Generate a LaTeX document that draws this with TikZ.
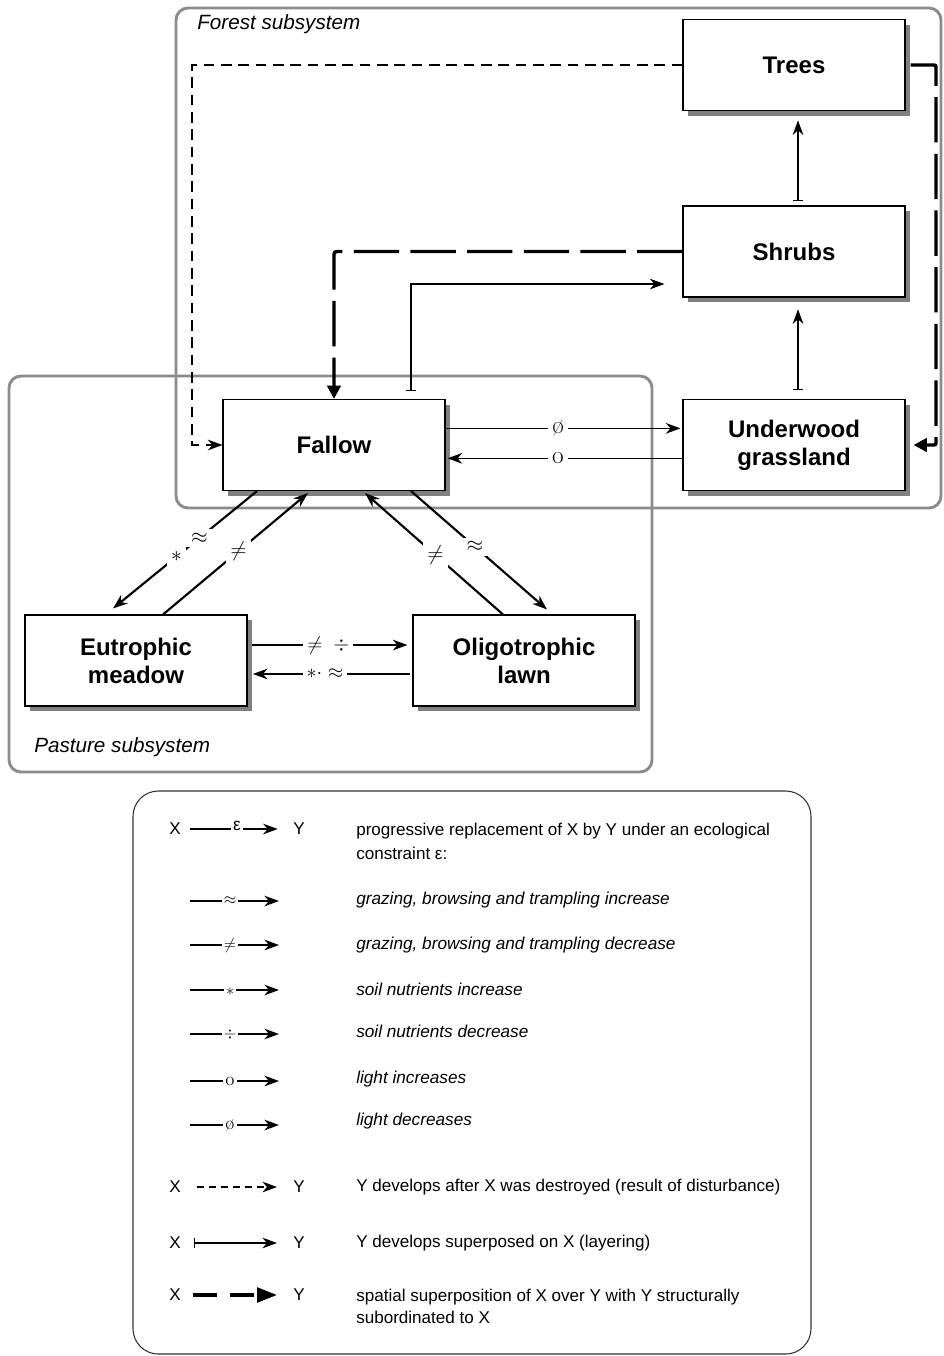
\RequirePackage{fix-cm}
\documentclass[tikz,border=0pt]{standalone}
\usepackage{fontspec}
\newfontfamily\arial{Liberation Sans}
\usetikzlibrary{arrows.meta,shadows}
\definecolor{shadowgray}{gray}{0.5}
\definecolor{framegray}{gray}{0.55}
\begin{document}
\begin{tikzpicture}[x=0.75pt,y=-0.75pt,
  box/.style={draw=black,line width=0.8pt,fill=white,minimum width=166.5pt,minimum height=68.25pt,inner sep=2pt,align=center,
    font=\arial\bfseries\fontsize{18}{21}\selectfont,
    drop shadow={shadow xshift=3.75pt,shadow yshift=-3.75pt,fill=shadowgray,opacity=1}},
  sub/.style={draw=framegray,line width=2.2pt,rounded corners=9pt},
  subtitle/.style={font=\arial\itshape\fontsize{15.5}{18}\selectfont,inner sep=0pt,anchor=west},
  tip/.style={-{Stealth[length=11pt,width=8pt,inset=3.5pt]}},
  repl/.style={tip,line width=1.1pt},
  diag/.style={tip,line width=1.6pt},
  dist/.style={tip,line width=0.9pt,dash pattern=on 8pt off 5pt},
  layer/.style={{Bar[width=7pt,line width=0.9pt]}-{Stealth[length=11pt,width=8pt,inset=3.5pt]},line width=0.9pt},
  super/.style={line width=2.6pt,dash pattern=on 34pt off 8.5pt,-{Triangle[length=10pt,width=10pt]}},
  lbl/.style={fill=white,inner sep=3pt,font=\fontsize{16}{16}\selectfont},
  lblo/.style={fill=white,inner sep=3pt,font=\fontsize{19}{19}\selectfont},
  ltxt/.style={font=\arial\fontsize{12.8}{18}\selectfont,inner sep=0pt},
  litxt/.style={font=\arial\itshape\fontsize{12.9}{18}\selectfont,inner sep=0pt,anchor=west},
  llbl/.style={fill=white,inner sep=1.5pt,font=\fontsize{12}{12}\selectfont},
]
\useasboundingbox (0,0) rectangle (944,1356);
% subsystems
\draw[sub] (176,8) rectangle (941,508);
\draw[sub] (9,376) rectangle (652,772);
\node[subtitle] (ft) at (197,24) {Forest subsystem};
\node[subtitle] (pt) at (34,747) {Pasture subsystem};
% boxes
\node[box] (tre) at (794,65) {Trees};
\node[box] (shr) at (794,251.5) {Shrubs};
\node[box] (und) at (794,445) {Underwood\\grassland};
\node[box] (fal) at (334,445) {Fallow};
\node[box] (eut) at (136,660.5) {Eutrophic\\meadow};
\node[box] (oli) at (524,660.5) {Oligotrophic\\lawn};
% disturbance
\coordinate (cd) at (192,445);
\draw[dist] (tre.west) -| (cd) -- (fal.west);
% superposition
\coordinate (cr) at (936,250);
\draw[super,rounded corners=1.5pt,shorten <=3.75pt,shorten >=6pt] (tre.east) -| (cr) |- (und.east);
\draw[super,rounded corners=2pt] (shr.west) -| (fal.north);
% layering
\draw[layer] ([xshift=57.75pt,yshift=6pt]fal.north) |- ([xshift=-13.5pt,yshift=-24.4pt]shr.west);
\draw[layer] ([xshift=3pt,yshift=3.2pt]shr.north) -- ([xshift=3pt,yshift=-7pt]tre.south);
\draw[layer] ([xshift=3pt,yshift=6.5pt]und.north) -- ([xshift=3pt,yshift=-8.8pt]shr.south);
% light
\draw[repl] ([yshift=12.5pt]fal.east) -- ([yshift=12.5pt,xshift=-1.5pt]und.west) node[lblo,pos=0.48]{\o};
\draw[repl] ([yshift=-10pt]und.west) -- ([yshift=-10pt,xshift=1.5pt]fal.east) node[lblo,pos=0.53,inner ysep=1pt]{o};
% diagonals
\draw[diag] ([xshift=-57.75pt]fal.south) -- ([xshift=-17.25pt,yshift=4.5pt]eut.north)
  node[lbl,pos=0.40]{$\approx$} node[lbl,pos=0.56]{$\ast$};
\draw[diag] ([xshift=20.25pt]eut.north) -- ([xshift=-19.5pt,yshift=-1.5pt]fal.south)
  node[lbl,pos=0.52]{$\neq$};
\draw[diag] ([xshift=-15.75pt]oli.north) -- ([xshift=23.25pt,yshift=-1.5pt]fal.south)
  node[lbl,pos=0.49]{$\neq$};
\draw[diag] ([xshift=57.75pt]fal.south) -- ([xshift=17.25pt,yshift=3.75pt]oli.north)
  node[lbl,pos=0.47]{$\approx$};
% pasture horizontal
\draw[repl,shorten <=3pt,shorten >=3.75pt] ([yshift=11.6pt]eut.east) -- ([yshift=11.6pt]oli.west)
  node[lbl,pos=0.49,font=\fontsize{15}{15}\selectfont]{$\neq\;\div$};
\draw[repl,shorten <=2pt,shorten >=4pt] ([yshift=-10.1pt]oli.west) -- ([yshift=-10.1pt]eut.east)
  node[lbl,pos=0.53,font=\fontsize{15}{15}\selectfont]{$\ast{\cdot}\approx$};
% legend
\draw[line width=0.8pt,draw=black!80,rounded corners=19pt] (133,791) rectangle (811,1354);
\node[ltxt] (x1) at (175,829) {X};
\node[ltxt] (y1) at (299,829) {Y};
\draw[repl,shorten <=7pt,shorten >=11.5pt] (x1) -- (y1)
  node[llbl,pos=0.5,yshift=2pt,font=\arial\fontsize{13}{13}\selectfont]{ε};
\node[ltxt,anchor=west,align=left] (t1) at (356,841) {progressive replacement of X by Y under an ecological\\constraint ε:};
% constraint rows
\coordinate (a2) at (190,901); \coordinate (b2) at (279,901);
\draw[repl] (a2) -- (b2) node[llbl,pos=0.45]{$\approx$};
\node[litxt] (t2) at (356,900) {grazing, browsing and trampling increase};
\coordinate (a3) at (190,945); \coordinate (b3) at (279,945);
\draw[repl] (a3) -- (b3) node[llbl,pos=0.45]{$\neq$};
\node[litxt] (t3) at (356,945) {grazing, browsing and trampling decrease};
\coordinate (a4) at (190,990); \coordinate (b4) at (279,990);
\draw[repl] (a4) -- (b4) node[llbl,pos=0.45,yshift=-1pt]{$\ast$};
\node[litxt] (t4) at (356,989) {soil nutrients increase};
\coordinate (a5) at (190,1034); \coordinate (b5) at (279,1034);
\draw[repl] (a5) -- (b5) node[llbl,pos=0.45]{$\div$};
\node[litxt] (t5) at (356,1031) {soil nutrients decrease};
\coordinate (a6) at (190,1081); \coordinate (b6) at (279,1081);
\draw[repl] (a6) -- (b6) node[llbl,pos=0.45,font=\fontsize{14}{14}\selectfont,inner ysep=0.5pt]{o};
\node[litxt] (t6) at (356,1079) {light increases};
\coordinate (a7) at (190,1125); \coordinate (b7) at (279,1125);
\draw[repl] (a7) -- (b7) node[llbl,pos=0.45,font=\fontsize{14}{14}\selectfont,inner ysep=0.5pt]{\o};
\node[litxt] (t7) at (356,1121) {light decreases};
% disturbance row
\node[ltxt] (x8) at (175,1187) {X};
\node[ltxt] (y8) at (299,1187) {Y};
\draw[tip,line width=0.9pt,dash pattern=on 5.25pt off 3.75pt,shorten <=12pt,shorten >=12pt] (x8) -- (y8);
\node[ltxt,anchor=west] (t8) at (356,1187) {Y develops after X was destroyed (result of disturbance)};
% layering row
\node[ltxt] (x9) at (175,1243) {X};
\node[ltxt] (y9) at (299,1243) {Y};
\draw[layer,shorten <=10pt,shorten >=12pt] (x9) -- (y9);
\node[ltxt,anchor=west] (t9) at (356,1243) {Y develops superposed on X (layering)};
% superposition row
\node[ltxt] (x10) at (175,1295) {X};
\node[ltxt] (y10) at (299,1295) {Y};
\draw[line width=2.6pt,dash pattern=on 18pt off 9.5pt,-{Triangle[length=15pt,width=11pt]},shorten <=9pt,shorten >=12pt] (x10) -- (y10);
\node[ltxt,anchor=west,align=left,font=\arial\fontsize{12.8}{16.5}\selectfont] (t10) at (356,1306) {spatial superposition of X over Y with Y structurally\\subordinated to X};
\end{tikzpicture}
\end{document}
